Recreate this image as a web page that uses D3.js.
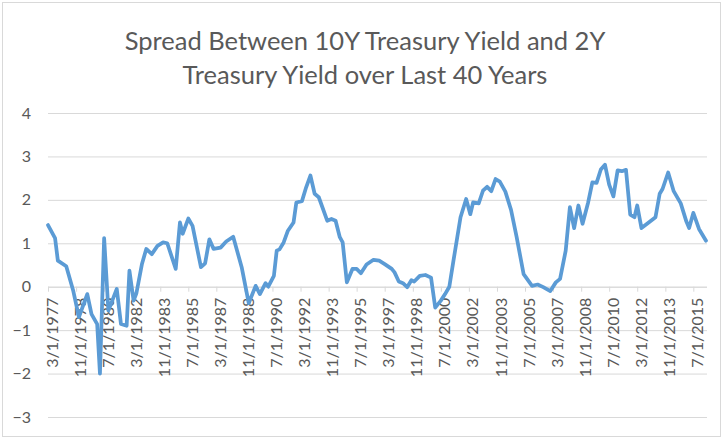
<!DOCTYPE html>
<html>
<head>
<meta charset="utf-8">
<script src="https://cdn.jsdelivr.net/npm/d3@7"></script>
<style>
  html, body { margin: 0; padding: 0; background: #fff; }
  svg { display: block; }
</style>
</head>
<body>
<svg id="chart" width="724" height="439"></svg>
<script>
// 10Y minus 2Y Treasury yield spread (percentage points)
const dates = [
  "1977-03","1977-08","1977-10","1978-04","1978-09","1979-01","1979-07","1979-10",
  "1980-02","1980-04","1980-07","1980-10","1981-04","1981-07","1981-11","1982-01",
  "1982-04","1982-06","1982-10","1983-01","1983-05","1983-09","1984-01","1984-04",
  "1984-10","1985-01","1985-03","1985-07","1985-10","1986-04","1986-07","1986-10",
  "1987-01","1987-06","1987-10","1988-03","1988-09","1989-02","1989-07","1989-10",
  "1990-02","1990-04","1990-08","1990-10","1990-12","1991-03","1991-06","1991-10",
  "1991-12","1992-04","1992-07","1992-10","1993-01","1993-04","1993-10","1994-01",
  "1994-04","1994-07","1994-09","1994-12","1995-04","1995-07","1995-10","1996-02",
  "1996-07","1996-11","1997-03","1997-08","1997-10","1998-01","1998-04","1998-07",
  "1998-10","1998-12","1999-04","1999-08","1999-12","2000-03","2000-07","2000-10",
  "2001-01","2001-04","2001-09","2002-01","2002-04","2002-06","2002-10","2003-01",
  "2003-04","2003-07","2003-10","2004-01","2004-05","2004-09","2005-01","2005-06",
  "2005-12","2006-04","2006-08","2007-01","2007-05","2007-08","2007-12","2008-03",
  "2008-06","2008-09","2008-12","2009-04","2009-07","2009-10","2010-01","2010-04",
  "2010-07","2010-10","2011-01","2011-04","2011-07","2011-10","2012-01","2012-03",
  "2012-06","2012-10","2013-04","2013-07","2013-09","2014-01","2014-05","2014-10",
  "2015-02","2015-04","2015-07","2015-11","2016-04"
];
const spread = [
  1.42, 1.12, 0.60, 0.47, -0.10, -0.70, -0.17, -0.63,
  -0.86, -2.00, 1.12, -0.55, -0.05, -0.86, -0.90, 0.37,
  -0.32, -0.15, 0.53, 0.87, 0.75, 0.94, 1.02, 1.00,
  0.41, 1.48, 1.22, 1.57, 1.40, 0.45, 0.54, 1.09,
  0.87, 0.90, 1.04, 1.15, 0.45, -0.38, 0.02, -0.17,
  0.08, 0.00, 0.25, 0.83, 0.86, 1.02, 1.29, 1.48,
  1.94, 1.97, 2.29, 2.56, 2.14, 2.06, 1.52, 1.56,
  1.52, 1.14, 1.02, 0.10, 0.41, 0.41, 0.31, 0.51,
  0.62, 0.60, 0.52, 0.41, 0.33, 0.12, 0.08, -0.01,
  0.15, 0.12, 0.25, 0.27, 0.21, -0.48, -0.32, -0.17,
  0.00, 0.60, 1.60, 2.02, 1.67, 1.94, 1.92, 2.21,
  2.30, 2.20, 2.48, 2.42, 2.19, 1.77, 1.14, 0.29,
  0.02, 0.05, -0.01, -0.10, 0.10, 0.18, 0.83, 1.83,
  1.35, 1.87, 1.45, 1.94, 2.40, 2.39, 2.70, 2.81,
  2.35, 2.08, 2.68, 2.66, 2.69, 1.66, 1.60, 1.87,
  1.35, 1.45, 1.60, 2.14, 2.25, 2.63, 2.20, 1.92,
  1.50, 1.35, 1.70, 1.33, 1.06
];
const xTickLabels = [
  "3/1/1977","11/1/1978","7/1/1980","3/1/1982","11/1/1983","7/1/1985",
  "3/1/1987","11/1/1988","7/1/1990","3/1/1992","11/1/1993","7/1/1995",
  "3/1/1997","11/1/1998","7/1/2000","3/1/2002","11/1/2003","7/1/2005",
  "3/1/2007","11/1/2008","7/1/2010","3/1/2012","11/1/2013","7/1/2015"
];
const yTicks = [-3, -2, -1, 0, 1, 2, 3, 4];
const titleLines = [
  "Spread Between 10Y Treasury Yield and 2Y",
  "Treasury Yield over Last 40 Years"
];

const parseMonth = d3.utcParse("%Y-%m");
const parseLabel = d3.utcParse("%m/%d/%Y");
const points = dates.map((d, i) => ({ date: parseMonth(d), value: spread[i] }));
const tickDates = xTickLabels.map(parseLabel);

const svg = d3.select("#chart");
const font = "Lato, 'Open Sans', sans-serif";
const textColor = "#595959";
const gridColor = "#d9d9d9";

// chart frame
svg.append("rect")
  .attr("x", 2.5).attr("y", 2.5)
  .attr("width", 718).attr("height", 434)
  .attr("fill", "#fff")
  .attr("stroke", gridColor)
  .attr("stroke-width", 1);

// title
svg.append("g")
  .selectAll("text")
  .data(titleLines)
  .join("text")
  .attr("x", 365)
  .attr("y", (d, i) => 50 + i * 34)
  .attr("text-anchor", "middle")
  .attr("font-family", font)
  .attr("font-size", 25.5)
  .attr("fill", textColor)
  .text(d => d);

const x = d3.scaleUtc()
  .domain([parseMonth(dates[0]), parseMonth(dates[dates.length - 1])])
  .range([48, 706]);
const y = d3.scaleLinear().domain([-3, 4]).range([417, 113]);

// horizontal gridlines + y labels
const yAxis = d3.axisLeft(y)
  .tickValues(yTicks)
  .tickSize(0)
  .tickPadding(17)
  .tickFormat(d3.format("d"));

const gy = svg.append("g")
  .attr("transform", "translate(48,0)")
  .call(yAxis);
gy.select(".domain").remove();
gy.selectAll(".tick line")
  .attr("stroke", gridColor)
  .attr("stroke-width", 1)
  .attr("x1", 0)
  .attr("x2", 707 - 48);
gy.selectAll(".tick text")
  .attr("font-family", font)
  .attr("font-size", 16)
  .attr("fill", textColor);

// category axis crossing at zero
const xAxis = d3.axisBottom(x)
  .tickValues(tickDates)
  .tickSize(5)
  .tickFormat("");
const gx = svg.append("g")
  .attr("transform", `translate(0,${y(0)})`)
  .call(xAxis);
gx.select(".domain")
  .attr("d", `M48,0.5H707`)
  .attr("stroke", gridColor);
gx.selectAll(".tick line").attr("stroke", gridColor);

// rotated date labels
svg.append("g")
  .selectAll("text")
  .data(tickDates)
  .join("text")
  .attr("transform", d => `translate(${x(d) + 4},${y(0) + 11}) rotate(-90)`)
  .attr("dy", "0.35em")
  .attr("text-anchor", "end")
  .attr("font-family", font)
  .attr("font-size", 16)
  .attr("fill", textColor)
  .text((d, i) => xTickLabels[i]);

// spread line
const line = d3.line()
  .x(d => x(d.date))
  .y(d => y(d.value));

svg.append("path")
  .datum(points)
  .attr("d", line)
  .attr("fill", "none")
  .attr("stroke", "#5b9bd5")
  .attr("stroke-width", 3.75)
  .attr("stroke-linejoin", "round")
  .attr("stroke-linecap", "round");
</script>
</body>
</html>
